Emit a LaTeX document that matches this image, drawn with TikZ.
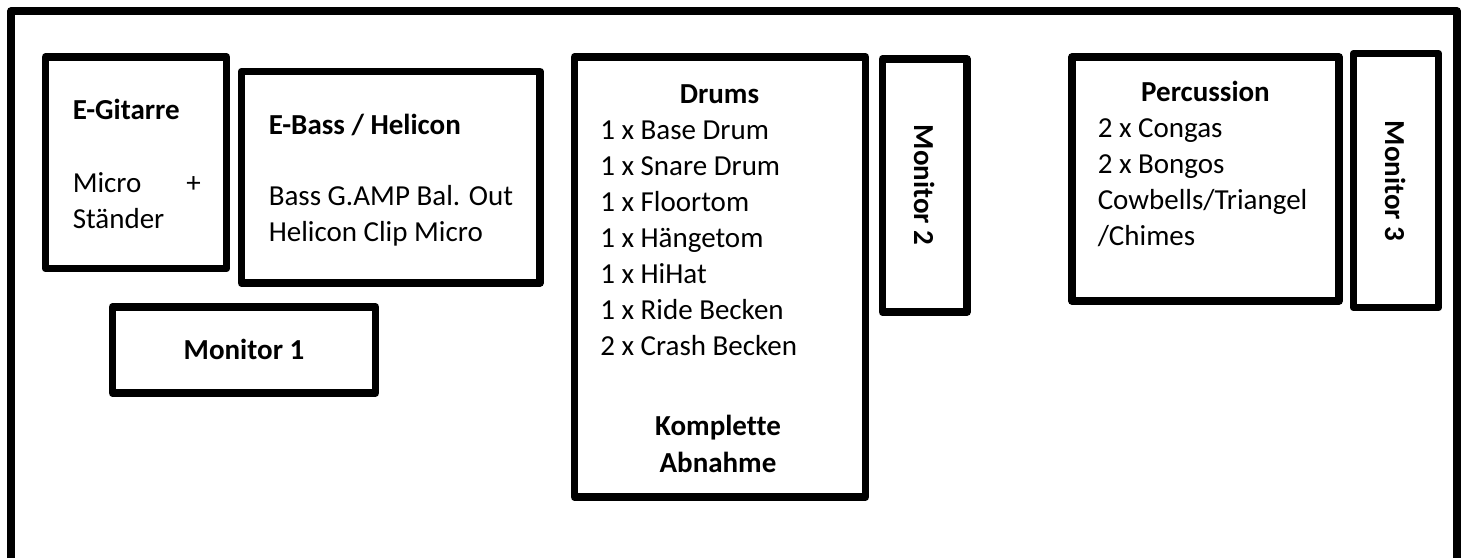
\documentclass[tikz,border=0pt]{standalone}
\usepackage{fontspec}
\setmainfont[Ligatures=NoCommon]{Carlito}
\tikzset{x=0.75pt,y=-0.75pt,
 box/.style={draw=black,line width=5.6pt,line join=round},
 txt/.style={inner sep=0pt,anchor=base west,font=\fontsize{21.75}{26}\selectfont},
 bold/.style={txt,font=\fontsize{21.75}{26}\selectfont\bfseries},
 cbold/.style={bold,anchor=base}}
\begin{document}
\begin{tikzpicture}
\useasboundingbox (0,0) rectangle (1467,558);
\draw[box] (11,558) -- (11,11) -- (1457,11) -- (1457,558);
\draw[box] (45.5,57) rectangle (226.5,268.5);
\draw[box] (241.5,71.5) rectangle (540,283);
\draw[box] (112.5,307) rectangle (375.5,393);
\draw[box] (574.5,57) rectangle (865.5,497);
\draw[box] (882.5,59) rectangle (967,312);
\draw[box] (1072,57) rectangle (1339,301);
\draw[box] (1353.5,53.5) rectangle (1438.5,307.5);
\node[bold] (a1) at (72.5,119.5) {E-Gitarre};
\node[txt] (a2) at (72.5,192.5) {Micro};
\node[txt] (a3) at (186,192.5) {+};
\node[txt] (a4) at (72.5,228.5) {Ständer};
\node[bold] (b1) at (268.5,134.5) {E-Bass / Helicon};
\node[txt] (b2) at (268.5,205.5) {Bass G.AMP Bal. Out};
\node[txt] (b3) at (268.5,241.5) {Helicon Clip Micro};
\node[cbold] (m1) at (244,359.5) {Monitor 1};
\node[cbold] (d0) at (719.5,103.5) {Drums};
\node[txt] (d1) at (600,139.5) {1 x Base Drum};
\node[txt] (d2) at (600,175.5) {1 x Snare Drum};
\node[txt] (d3) at (600,211.5) {1 x Floortom};
\node[txt] (d4) at (600,247.5) {1 x Hängetom};
\node[txt] (d5) at (600,283.5) {1 x HiHat};
\node[txt] (d6) at (600,319.5) {1 x Ride Becken};
\node[txt] (d7) at (600,355.5) {2 x Crash Becken};
\node[cbold] (k1) at (718,435.5) {Komplette};
\node[cbold] (k2) at (718,472) {Abnahme};
\node[bold,anchor=base,rotate=-90] (m2) at (914,185) {Monitor 2};
\node[cbold] (p0) at (1205.5,101.5) {Percussion};
\node[txt] (p1) at (1097.5,137.5) {2 x Congas};
\node[txt] (p2) at (1097.5,173.5) {2 x Bongos};
\node[txt] (p3) at (1097.5,209.5) {Cowbells/Triangel};
\node[txt] (p4) at (1097.5,245.5) {/Chimes};
\node[bold,anchor=base,rotate=-90] (m3) at (1385,181) {Monitor 3};
\end{tikzpicture}
\end{document}
